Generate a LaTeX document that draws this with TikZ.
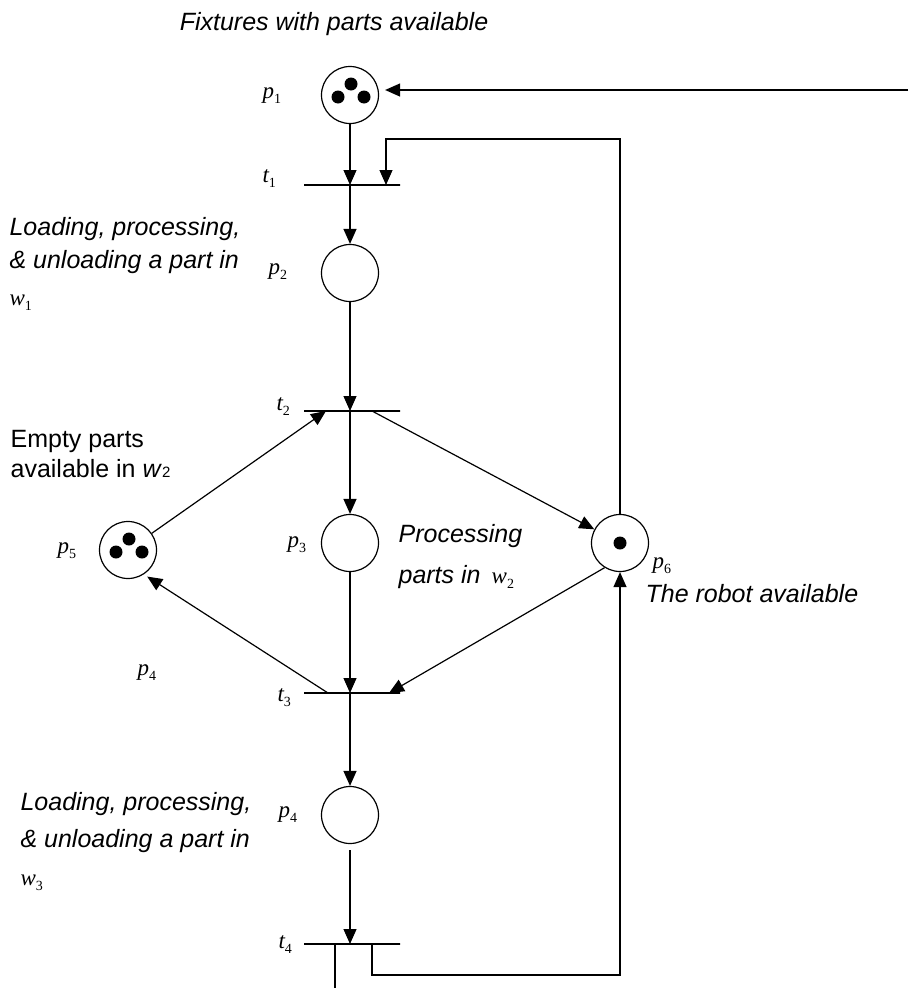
\documentclass[tikz,border=0pt]{standalone}
\usepackage{fontspec}
\setmainfont{Liberation Sans}
\newfontfamily\tms{Liberation Serif}
\usetikzlibrary{arrows.meta}
\newcommand{\sym}[2]{{\tms\fontsize{23}{23}\selectfont\itshape #1\raisebox{-0.22em}{\upshape\fontsize{14}{14}\selectfont #2}}}
\begin{document}
\begin{tikzpicture}[x=1pt,y=-1pt,line width=1.2pt,
  place/.style={circle,draw,minimum size=57pt,inner sep=0pt},
  trans/.style={draw,rectangle,minimum width=96pt,minimum height=0pt,inner sep=0pt},
  arr/.style={-{Triangle[length=15pt,width=13pt]}},
  txt/.style={font=\fontsize{25}{33}\selectfont\itshape,anchor=base west,inner sep=0pt},
  lab/.style={anchor=base west,inner sep=0pt},
  tok/.style={circle,fill,minimum size=13pt,inner sep=0pt}]
\useasboundingbox (0,0) rectangle (908,988);
% places
\node[place] (p1) at (350,95) {};
\node[place] (p2) at (350,273) {};
\node[place] (p3) at (350,543) {};
\node[place] (p4) at (350,815) {};
\node[place] (p5) at (128,550) {};
\node[place] (p6) at (620,543) {};
% tokens
\node[tok] (k1) at ([shift={(1,-11)}]p1) {};
\node[tok] (k2) at ([shift={(-12,2)}]p1) {};
\node[tok] (k3) at ([shift={(14,2)}]p1) {};
\node[tok] (k4) at ([shift={(1,-11)}]p5) {};
\node[tok] (k5) at ([shift={(-12,2)}]p5) {};
\node[tok] (k6) at ([shift={(14,2)}]p5) {};
\node[tok] (k7) at (p6) {};
% transitions
\node[trans] (t1) at (352,185) {};
\node[trans] (t2) at (352,411) {};
\node[trans] (t3) at (352,693) {};
\node[trans] (t4) at (352,944) {};
% helper coordinates
\coordinate (in) at (908,90);
\coordinate (fb) at (386,139);
\coordinate (t2l) at (326,411);
\coordinate (t2r) at (372,411);
\coordinate (t3l) at (328,693);
\coordinate (t3r) at (389,693);
\coordinate (t4o) at (335,988);
\coordinate (t4r) at (372,944);
\coordinate (br) at (620,975);
% arcs
\draw[arr,shorten >=6pt] (in) -- (p1.east |- in);
\draw[arr] (p1) -- (p1 |- t1.center);
\draw[arr] (p6.north) |- (fb) -- (fb |- t1.center);
\draw[arr] (t1.center -| p2) -- (p2);
\draw[arr] (p2) -- (p2 |- t2.center);
\draw[arr] (p5) -- (t2l);
\draw[arr] (t2.center -| p3) -- (p3);
\draw[arr] (t2r) -- (p6);
\draw[arr] (p3) -- (p3 |- t3.center);
\draw[arr] (p6.238) -- (t3r);
\draw[arr,shorten >=4pt] (t3l) -- (p5.-57);
\draw[arr] (t3.center -| p4) -- (p4);
\draw[arr,shorten <=6pt] (p4) -- (p4 |- t4.center);
\draw (t4o |- t4.center) -- (t4o);
\draw[arr] (t4r) |- (br) -- (p6.south);
% labels
\node[txt,anchor=base] (title) at (334,30) {Fixtures with parts available};
\node[lab] (lp1) at (262,98) {\sym{p}{1}};
\node[lab] (lt1) at (262,182) {\sym{t}{1}};
\node[lab] (lp2) at (268,274) {\sym{p}{2}};
\node[lab] (lt2) at (276,410) {\sym{t}{2}};
\node[lab] (lp3) at (287,547) {\sym{p}{3}};
\node[lab] (lp5) at (57,553) {\sym{p}{5}};
\node[lab] (lp4m) at (137,675) {\sym{p}{4}};
\node[lab] (lt3) at (277,701) {\sym{t}{3}};
\node[lab] (lp4) at (278,817) {\sym{p}{4}};
\node[lab] (lt4) at (278,948) {\sym{t}{4}};
\node[lab] (lp6) at (652,568) {\sym{p}{6}};
\node[txt] (d1a) at (9,235) {Loading, processing,};
\node[txt] (d1b) at (9,268) {\& unloading a part in};
\node[lab] (d1c) at (9,305) {\sym{w}{1}};
\node[txt] (d3a) at (20,810) {Loading, processing,};
\node[txt] (d3b) at (20,847) {\& unloading a part in};
\node[lab] (d3c) at (20,885) {\sym{w}{3}};
\node[txt,font=\fontsize{25}{33}\selectfont] (e1) at (10,447) {Empty parts};
\node[txt,font=\fontsize{25}{33}\selectfont] (e2) at (10,477) {available in \textit{w}{\fontsize{15}{15}\selectfont 2}};
\node[txt] (pr1) at (398,542) {Processing};
\node[txt] (pr2) at (398,583) {parts in \,\sym{w}{2}};
\node[txt] (rb) at (645,602) {The robot available};
\end{tikzpicture}
\end{document}
